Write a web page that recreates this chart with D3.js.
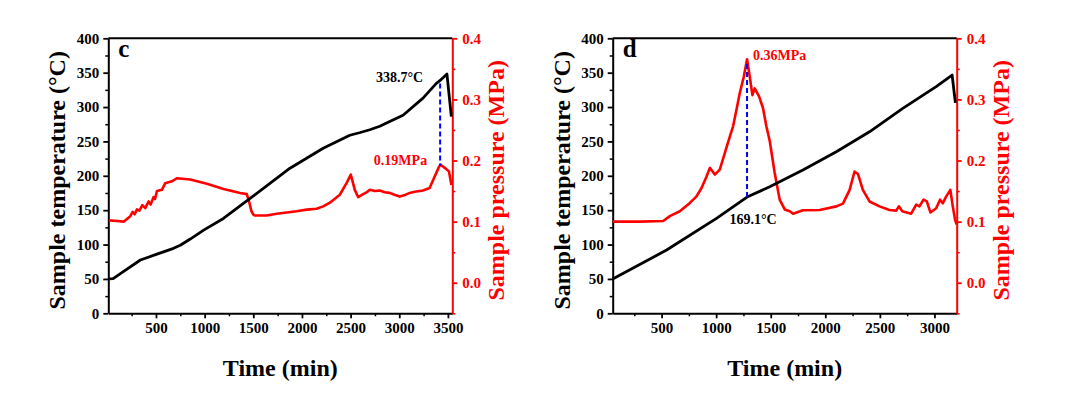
<!DOCTYPE html>
<html>
<head>
<meta charset="utf-8">
<script src="https://cdn.jsdelivr.net/npm/d3@7"></script>
<style>
  body { margin: 0; background: #fff; }
  svg text { font-family: "Liberation Serif", "Times New Roman", serif; font-weight: bold; }
</style>
</head>
<body>
<div id="chart"></div>
<script>
// ---- panel c data ----
const tempTimeC = [15, 60, 168, 340, 510, 680, 750, 852, 990, 1193, 1467, 1877, 2218, 2492, 2600, 2697, 2800, 2902, 3039, 3244, 3381, 3420, 3490, 3535];
const tempC     = [50, 50.5, 61, 77.5, 86, 94.5, 99, 108, 121, 138, 167, 211, 240, 259, 263, 267, 272, 279, 288, 313, 334.5, 338.7, 348, 286];
const presTimeC = [15, 100, 168, 236, 260, 280, 305, 330, 360, 390, 424, 445, 475, 490, 510, 561, 595, 664, 715, 852, 1023, 1194, 1365, 1433, 1460, 1481, 1501, 1518, 1638, 1740, 1945, 2048, 2150, 2218, 2287, 2389, 2458, 2502, 2543, 2578, 2629, 2664, 2697, 2750, 2800, 2850, 2902, 2950, 3005, 3050, 3107, 3160, 3244, 3312, 3364, 3409, 3425, 3467, 3511, 3536];
const presC     = [0.102, 0.101, 0.100, 0.109, 0.116, 0.112, 0.120, 0.118, 0.127, 0.122, 0.133, 0.128, 0.140, 0.137, 0.150, 0.152, 0.163, 0.166, 0.171, 0.169, 0.162, 0.1535, 0.147, 0.145, 0.131, 0.117, 0.1115, 0.110, 0.110, 0.113, 0.117, 0.1197, 0.121, 0.125, 0.131, 0.144, 0.163, 0.177, 0.152, 0.140, 0.145, 0.148, 0.152, 0.150, 0.151, 0.148, 0.147, 0.144, 0.141, 0.143, 0.147, 0.149, 0.151, 0.155, 0.174, 0.190, 0.193, 0.188, 0.182, 0.160];

// ---- panel d data ----
const tempTimeD = [52, 546, 1003, 1283, 1491, 1795, 2101, 2405, 2710, 3016, 3162, 3192];
const tempD     = [50, 92, 138, 169.1, 184, 208.4, 235, 264, 298, 329.6, 346.6, 306];
const presTimeD = [52, 300, 515, 576, 667, 759, 820, 866, 912, 942, 988, 1033, 1079, 1125, 1155, 1186, 1216, 1253, 1283, 1308, 1332, 1353, 1393, 1429, 1460, 1491, 1536, 1582, 1628, 1674, 1705, 1795, 1948, 2101, 2162, 2223, 2268, 2299, 2344, 2405, 2497, 2588, 2650, 2674, 2705, 2787, 2833, 2863, 2900, 2930, 2963, 3016, 3052, 3076, 3107, 3146, 3168, 3189, 3204];
const presD     = [0.100, 0.100, 0.101, 0.109, 0.117, 0.1306, 0.1414, 0.155, 0.174, 0.188, 0.177, 0.185, 0.212, 0.239, 0.256, 0.283, 0.310, 0.337, 0.3657, 0.337, 0.307, 0.318, 0.305, 0.286, 0.256, 0.232, 0.180, 0.136, 0.120, 0.117, 0.113, 0.1186, 0.119, 0.125, 0.1295, 0.152, 0.182, 0.178, 0.152, 0.133, 0.125, 0.119, 0.118, 0.125, 0.117, 0.113, 0.128, 0.125, 0.136, 0.133, 0.115, 0.122, 0.136, 0.130, 0.141, 0.152, 0.125, 0.103, 0.095];

// annotations: [time, temperature, pressure]
const annoC = [3420, 338.7, 0.19];
const annoD = [1283, 169.1, 0.36];

// tick values
const tempTicks = [0, 50, 100, 150, 200, 250, 300, 350, 400];
const presTicks = [0.0, 0.1, 0.2, 0.3, 0.4];

const FONT = '"Liberation Serif", "Times New Roman", serif';
const width = 1075, height = 394;
const svg = d3.select("#chart").append("svg")
    .attr("width", width)
    .attr("height", height)
    .style("background", "#fff");

const plotW = 344, plotH = 275;

function styleTicks(sel, color) {
    sel.selectAll("text")
        .attr("font-family", FONT)
        .style("font-family", FONT)
        .style("font-weight", "bold")
        .style("font-size", "15px")
        .attr("fill", color);
}

function drawPanel(left, label, timeDomain, xTicks, tT, tV, pT, pV, anno, annoStyle) {
    const top = 38.3;
    const g = svg.append("g").attr("transform", `translate(${left},${top})`);

    const x = d3.scaleLinear().domain(timeDomain).range([0, plotW]);
    const yT = d3.scaleLinear().domain([0, 400]).range([plotH, 0]);
    const yP = d3.scaleLinear().domain([-0.05, 0.4]).range([plotH, 0]);

    // minor ticks
    const xMinor = d3.range(250, timeDomain[1], 250).filter(v => v % 500 !== 0);
    g.append("g").attr("transform", `translate(0,${plotH})`)
        .call(d3.axisBottom(x).tickValues(xMinor).tickSize(3).tickFormat(""))
        .call(a => a.select(".domain").remove())
        .selectAll("line").attr("stroke-width", 1.5);
    g.append("g")
        .call(d3.axisLeft(yT).tickValues(d3.range(25, 400, 50)).tickSize(3).tickFormat(""))
        .call(a => a.select(".domain").remove())
        .selectAll("line").attr("stroke-width", 1.5);
    g.append("g").attr("transform", `translate(${plotW},0)`)
        .call(d3.axisRight(yP).tickValues([-0.05, 0.05, 0.15, 0.25, 0.35]).tickSize(3).tickFormat(""))
        .call(a => a.select(".domain").remove())
        .selectAll("line").attr("stroke", "#f00").attr("stroke-width", 1.5);

    // bottom axis
    const xa = g.append("g").attr("transform", `translate(0,${plotH})`)
        .call(d3.axisBottom(x).tickValues(xTicks).tickSize(5).tickSizeOuter(0).tickPadding(4).tickFormat(d3.format("d")));
    xa.select(".domain").attr("stroke-width", 2);
    xa.selectAll("line").attr("stroke-width", 1.8);
    styleTicks(xa, "#000");

    // left axis
    const ya = g.append("g")
        .call(d3.axisLeft(yT).tickValues(tempTicks).tickSize(5).tickSizeOuter(0).tickPadding(4).tickFormat(d3.format("d")));
    ya.select(".domain").attr("stroke-width", 2);
    ya.selectAll("line").attr("stroke-width", 1.8);
    styleTicks(ya, "#000");

    // right axis (red)
    const pa = g.append("g").attr("transform", `translate(${plotW},0)`)
        .call(d3.axisRight(yP).tickValues(presTicks).tickSize(5).tickSizeOuter(0).tickPadding(5).tickFormat(d3.format(".1f")));
    pa.select(".domain").attr("stroke", "#f00").attr("stroke-width", 2);
    pa.selectAll("line").attr("stroke", "#f00").attr("stroke-width", 1.8);
    styleTicks(pa, "#f00");

    // top frame
    g.append("line").attr("x1", 0).attr("x2", plotW).attr("y1", 0).attr("y2", 0)
        .attr("stroke", "#000").attr("stroke-width", 2);

    // lines
    const tempData = tT.map((t, i) => [t, tV[i]]);
    const presData = pT.map((t, i) => [t, pV[i]]);

    g.append("path").datum(presData)
        .attr("fill", "none").attr("stroke", "#f00").attr("stroke-width", 2.6)
        .attr("stroke-linejoin", "round")
        .attr("d", d3.line().x(d => x(d[0])).y(d => yP(d[1])));

    g.append("path").datum(tempData)
        .attr("fill", "none").attr("stroke", "#000").attr("stroke-width", 2.8)
        .attr("stroke-linejoin", "round")
        .attr("d", d3.line().x(d => x(d[0])).y(d => yT(d[1])));

    // dashed marker
    g.append("line")
        .attr("x1", x(anno[0])).attr("x2", x(anno[0]))
        .attr("y1", yT(anno[1]) + (annoStyle === "c" ? 3 : 0))
        .attr("y2", yP(anno[2]) - 1)
        .attr("stroke", "#0000ff").attr("stroke-width", 2)
        .attr("stroke-dasharray", "5,3");

    if (annoStyle === "c") {
        g.append("text").attr("x", x(anno[0]) - 17).attr("y", yT(anno[1]) + 2)
            .attr("text-anchor", "end").style("font-size", "14px").attr("fill", "#000")
            .text(anno[1] + "°C");
        g.append("text").attr("x", x(anno[0]) - 13).attr("y", yP(anno[2]) - 2)
            .attr("text-anchor", "end").style("font-size", "14px").attr("fill", "#f00")
            .text(anno[2] + "MPa");
    } else {
        g.append("text").attr("x", x(anno[0]) + 6).attr("y", yP(anno[2]) - 3)
            .attr("text-anchor", "start").style("font-size", "14px").attr("fill", "#f00")
            .text(anno[2] + "MPa");
        g.append("text").attr("x", x(anno[0]) + 6).attr("y", yT(anno[1]) + 27)
            .attr("text-anchor", "middle").style("font-size", "14px").attr("fill", "#000")
            .text(anno[1] + "°C");
    }

    // panel label
    g.append("text").attr("x", 10).attr("y", 19)
        .style("font-size", "25px").attr("fill", "#000").text(label);

    // axis titles
    g.append("text").attr("x", plotW / 2).attr("y", 338)
        .attr("text-anchor", "middle").style("font-size", "24px").attr("fill", "#000")
        .text("Time (min)");
    g.append("text")
        .attr("transform", `translate(${-43},${142}) rotate(-90)`)
        .attr("text-anchor", "middle").style("font-size", "24px").attr("fill", "#000")
        .text("Sample temperature (°C)");
    g.append("text")
        .attr("transform", `translate(${plotW + 52},${142}) rotate(-90)`)
        .attr("text-anchor", "middle").style("font-size", "24px").attr("fill", "#f00")
        .text("Sample pressure (MPa)");
}

drawPanel(108.3, "c", [10, 3545], [500, 1000, 1500, 2000, 2500, 3000, 3500],
    tempTimeC, tempC, presTimeC, presC, annoC, "c");
drawPanel(612.7, "d", [52, 3204], [500, 1000, 1500, 2000, 2500, 3000],
    tempTimeD, tempD, presTimeD, presD, annoD, "d");
</script>
</body>
</html>
